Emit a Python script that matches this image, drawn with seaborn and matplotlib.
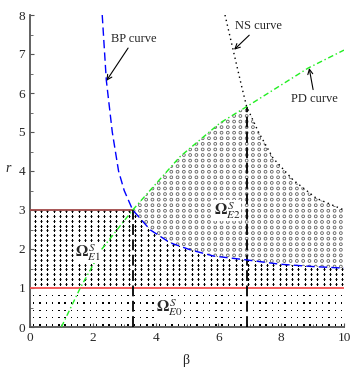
import numpy as np
import matplotlib
matplotlib.use("Agg")
import matplotlib.pyplot as plt
from matplotlib.patches import Polygon
import seaborn as sns

# curve points (beta, r)
bp_beta = [2.30, 2.43, 2.62, 2.82, 3.00, 3.27, 3.83, 4.46, 5.10, 5.84, 6.90, 7.96, 9.00, 10.0]
bp_r    = [8.00, 6.33, 5.00, 4.00, 3.50, 3.00, 2.49, 2.16, 1.98, 1.82, 1.72, 1.61, 1.55, 1.51]

pd_beta = [1.00, 1.60, 2.29, 3.27, 4.78, 6.05, 6.90, 8.86, 10.0]
pd_r    = [0.00, 1.00, 2.00, 3.00, 4.37, 5.23, 5.65, 6.64, 7.10]

ns_beta = [6.21, 6.47, 6.74, 6.90, 7.27, 7.74, 8.38, 9.12, 10.0]
ns_r    = [8.00, 7.10, 6.17, 5.65, 5.01, 4.33, 3.77, 3.30, 3.00]

beta_c1, r_c1 = 3.27, 3.0     # BP meets PD on r = 3
beta_c2, r_c2 = 6.90, 5.65    # NS meets PD
r_low, r_high = 1.0, 3.0

sns.set_style("ticks")
plt.rcParams['font.family'] = ['Liberation Serif', 'DejaVu Serif']
plt.rcParams['mathtext.fontset'] = 'stix'

fig = plt.figure(figsize=(3.61, 3.67), dpi=100)
ax = fig.add_axes([30/361, 1-327/367, 314/361, 312/367])
ax.set_xlim(0, 10)
ax.set_ylim(0, 8)

# region outlines (used only as clip paths for the textures)
dot_poly = Polygon([(0, 0), (10, 0), (10, r_low), (0, r_low)], closed=True,
                   facecolor='none', edgecolor='none', transform=ax.transData)
i1 = bp_beta.index(beta_c1)
dash_pts = [(0, r_low), (0, r_high), (beta_c1, r_high)] + \
           list(zip(bp_beta[i1:], bp_r[i1:])) + [(10, r_low)]
dash_poly = Polygon(dash_pts, closed=True, facecolor='none', edgecolor='none',
                    transform=ax.transData)
j1 = pd_beta.index(beta_c1)
j2 = pd_beta.index(beta_c2)
k2 = ns_beta.index(beta_c2)
circ_pts = list(zip(bp_beta[i1:], bp_r[i1:])) + \
           list(zip(ns_beta[k2:], ns_r[k2:]))[::-1] + \
           list(zip(pd_beta[j1:j2 + 1], pd_r[j1:j2 + 1]))[::-1]
circ_poly = Polygon(circ_pts, closed=True, facecolor='none', edgecolor='none',
                    transform=ax.transData)
for p in (dot_poly, dash_poly, circ_poly):
    ax.add_patch(p)

# textures
gx, gy = np.meshgrid(np.arange(0.12, 10, 0.2), np.arange(0.05, 1.0, 0.19))
s1 = ax.scatter(gx.ravel(), gy.ravel(), s=1.0, marker='s', color='black',
                edgecolor='none', zorder=1)
s1.set_clip_path(dot_poly)

gx, gy = np.meshgrid(np.arange(0.15, 10, 0.2), np.arange(1.1, 3.0, 0.125))
s2 = ax.scatter(gx.ravel(), gy.ravel(), s=2.0, marker='_', color='black', lw=0.8, zorder=1)
s2.set_clip_path(dash_poly)

gx, gy = np.meshgrid(np.arange(3.3, 10, 0.2), np.arange(1.55, 6.0, 0.143))
s3 = ax.scatter(gx.ravel(), gy.ravel(), s=4, marker='o', facecolor='none',
                edgecolor='#606060', lw=0.6, zorder=1)
s3.set_clip_path(circ_poly)

# horizontal and vertical boundaries
ax.plot([0, 10], [r_low, r_low], color='#f25050', lw=1.3, zorder=3)
ax.plot([0, beta_c1], [r_high, r_high], color='#a04848', lw=1.3, zorder=3)
ax.plot([beta_c1, beta_c1], [0, r_c1], color='black', lw=1.3, ls=(0, (6, 2.5)), zorder=3)
ax.plot([beta_c2, beta_c2], [0, r_c2], color='black', lw=1.3, ls=(0, (6, 2.5)), zorder=3)

# curves
sns.lineplot(x=bp_beta, y=bp_r, ax=ax, color='#0000ff', lw=1.0, estimator=None,
             sort=False, zorder=4).lines[-1].set_linestyle((0, (6, 3)))
sns.lineplot(x=pd_beta, y=pd_r, ax=ax, color='#22ee22', lw=1.0, estimator=None,
             sort=False, zorder=4).lines[-1].set_linestyle((0, (4, 2, 1, 2)))
sns.lineplot(x=ns_beta, y=ns_r, ax=ax, color='black', lw=1.0, estimator=None,
             sort=False, zorder=4).lines[-1].set_linestyle((0, (1, 2.5)))

# region labels
lab_box = dict(facecolor='white', edgecolor='none', pad=0.3)
ax.text(1.42, 1.8, r'$\mathbf{\Omega}_{E1}^{\,S}$', fontsize=11.5, zorder=5, bbox=lab_box)
ax.text(4.02, 0.4, r'$\mathbf{\Omega}_{E0}^{\,S}$', fontsize=11.5, zorder=5, bbox=lab_box)
ax.text(5.85, 2.88, r'$\mathbf{\Omega}_{E2}^{\,S}$', fontsize=11.5, zorder=5, bbox=lab_box)

# curve names
arrow = dict(arrowstyle='->', color='black', lw=0.8, shrinkA=0, shrinkB=0)
ax.annotate('BP curve', xy=(2.43, 6.31), xytext=(3.32, 7.39), fontsize=9,
            ha='center', va='center', arrowprops=arrow)
ax.annotate('NS curve', xy=(6.5, 7.11), xytext=(7.29, 7.72), fontsize=9,
            ha='center', va='center', arrowprops=arrow)
ax.annotate('PD curve', xy=(8.89, 6.64), xytext=(9.07, 5.85), fontsize=9,
            ha='center', va='center', arrowprops=arrow)

# axes styling
sns.despine(ax=ax)
for sp in ('left', 'bottom'):
    ax.spines[sp].set_color('#555555')
    ax.spines[sp].set_linewidth(1.3)
ax.set_xticks(range(0, 11, 2))
ax.set_xticks(range(1, 10, 2), minor=True)
ax.set_yticks(range(0, 9))
ax.set_yticks(np.arange(0.5, 8, 1), minor=True)
ax.tick_params(which='both', direction='in', color='#555555', labelsize=9.5)
ax.tick_params(which='major', length=3, pad=3.5)
ax.tick_params(which='minor', length=2)
ax.set_xlabel('β', fontsize=10)
ax.set_ylabel('r', fontsize=10, style='italic', rotation=0)
ax.xaxis.set_label_coords(0.497, -0.087)
ax.yaxis.set_label_coords(-0.07, 0.487)

fig.savefig('out.png', dpi=100)
